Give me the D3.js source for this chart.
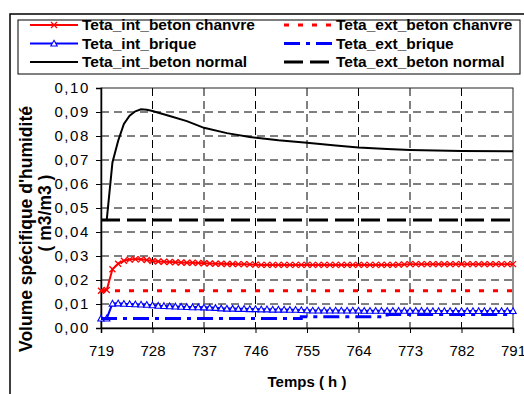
<!DOCTYPE html>
<html>
<head>
<meta charset="utf-8">
<script src="https://cdn.jsdelivr.net/npm/d3@7"></script>
<style>
  body { margin: 0; background: #fff; }
  text { font-family: "Liberation Sans", Arial, sans-serif; }
</style>
</head>
<body>
<svg id="chart" width="524" height="394"></svg>
<script>
// hours 719..791, one value per hour for series drawn with markers
var hours = d3.range(719, 792);

var intChanvre = [
  0.0155, 0.0158, 0.0245, 0.0268, 0.0280, 0.0285, 0.0287, 0.0286, 0.0283, 0.0279,
  0.0277, 0.0276, 0.0275, 0.0274, 0.0273, 0.0272, 0.0272, 0.0271, 0.0270, 0.0269,
  0.0268, 0.0268, 0.0267, 0.0267, 0.0266, 0.0266, 0.0265, 0.0264, 0.0263, 0.0263,
  0.0263, 0.0263, 0.0263, 0.0263, 0.0263, 0.0263, 0.0263, 0.0263, 0.0263, 0.0263,
  0.0263, 0.0263, 0.0263, 0.0263, 0.0263, 0.0263, 0.0263, 0.0263, 0.0263, 0.0263,
  0.0263, 0.0263, 0.0264, 0.0265, 0.0266, 0.0266, 0.0266, 0.0266, 0.0266, 0.0266,
  0.0266, 0.0266, 0.0266, 0.0266, 0.0266, 0.0266, 0.0266, 0.0266, 0.0266, 0.0266,
  0.0266, 0.0266, 0.0266
];

var intBrique = [
  0.0040, 0.0040, 0.0102, 0.0103, 0.0101, 0.0100, 0.0099, 0.0098, 0.0097, 0.0095,
  0.0093, 0.0092, 0.0091, 0.0090, 0.0089, 0.0088, 0.0087, 0.0087, 0.0086, 0.0085,
  0.0084, 0.0082, 0.0081, 0.0081, 0.0080, 0.0080, 0.0079, 0.0079, 0.0078, 0.0078,
  0.0077, 0.0077, 0.0077, 0.0076, 0.0076, 0.0075, 0.0074, 0.0073, 0.0073, 0.0073,
  0.0073, 0.0073, 0.0073, 0.0073, 0.0073, 0.0073, 0.0072, 0.0072, 0.0072, 0.0072,
  0.0072, 0.0072, 0.0072, 0.0072, 0.0072, 0.0072, 0.0072, 0.0072, 0.0071, 0.0071,
  0.0071, 0.0071, 0.0071, 0.0071, 0.0071, 0.0071, 0.0071, 0.0071, 0.0071, 0.0071,
  0.0071, 0.0071, 0.0071
];

// series without markers: read at key hours
var normalHours = [719, 720, 721, 722, 723, 724, 725, 726, 727, 728, 731, 734, 737, 741, 745, 750, 755, 760, 764, 769, 773, 782, 791];
var intNormal   = [0.045, 0.045, 0.069, 0.078, 0.085, 0.0885, 0.0903, 0.0911, 0.0909, 0.0904, 0.0883, 0.0862, 0.0834, 0.0812, 0.0796, 0.0782, 0.0772, 0.0760, 0.0752, 0.0746, 0.0742, 0.0737, 0.0736];

var extHours   = [719, 791];
var extChanvre = [0.0155, 0.0155];
var extNormal  = [0.045, 0.045];

var extBriqueHours = [719, 752, 754, 767, 769, 791];
var extBrique      = [0.0040, 0.0040, 0.0047, 0.0047, 0.0056, 0.0057];

var xTicks = [719, 728, 737, 746, 755, 764, 773, 782, 791];
var yTicks = [0, 0.01, 0.02, 0.03, 0.04, 0.05, 0.06, 0.07, 0.08, 0.09, 0.10];

var legendNames = [
  "Teta_int_beton chanvre", "Teta_ext_beton chanvre",
  "Teta_int_brique", "Teta_ext_brique",
  "Teta_int_beton normal", "Teta_ext_beton normal"
];

var svg = d3.select("#chart");
var pLeft = 101, pRight = 513, pTop = 88, pBottom = 328;

var x = d3.scaleLinear().domain([719, 791]).range([pLeft, pRight]);
var y = d3.scaleLinear().domain([0, 0.10]).range([pBottom, pTop]);
var fmt = function (d) { return d3.format(".2f")(d).replace(".", ","); };

// outer chart frame
svg.append("rect")
  .attr("x", 10).attr("y", 14).attr("width", 530).attr("height", 400)
  .attr("fill", "none").attr("stroke", "#000").attr("stroke-width", 1.5);

// grid
svg.append("g").selectAll("line").data(yTicks.slice(1, -1)).enter().append("line")
  .attr("x1", pLeft).attr("x2", pRight)
  .attr("y1", d => y(d)).attr("y2", d => y(d))
  .attr("stroke", "#000").attr("stroke-width", 1).attr("stroke-dasharray", "8,5");
svg.append("g").selectAll("line").data(xTicks.slice(1, -1)).enter().append("line")
  .attr("x1", d => x(d)).attr("x2", d => x(d))
  .attr("y1", pTop).attr("y2", pBottom)
  .attr("stroke", "#000").attr("stroke-width", 1).attr("stroke-dasharray", "8,5");

// plot border
svg.append("rect")
  .attr("x", pLeft).attr("y", pTop).attr("width", pRight - pLeft).attr("height", pBottom - pTop)
  .attr("fill", "none").attr("stroke", "#222").attr("stroke-width", 1);

// axes
var yAxis = svg.append("g").attr("transform", "translate(" + pLeft + ",0)")
  .call(d3.axisLeft(y).tickValues(yTicks).tickFormat(fmt).tickSize(5).tickPadding(6));
var xAxis = svg.append("g").attr("transform", "translate(0," + pBottom + ")")
  .call(d3.axisBottom(x).tickValues(xTicks).tickFormat(d3.format("d")).tickSize(5).tickPadding(12));
[yAxis, xAxis].forEach(function (a) {
  a.select(".domain").attr("stroke", "#000").attr("stroke-width", 1.5);
  a.selectAll(".tick line").attr("stroke", "#000");
  a.selectAll("text").attr("font-size", 15).attr("fill", "#000")
    .style("font-family", "'Liberation Sans', Arial, sans-serif");
});
yAxis.selectAll("text").attr("letter-spacing", "1.6px");

var line = d3.line().x(d => x(d[0])).y(d => y(d[1]));
var stepLine = d3.line().x(d => x(d[0])).y(d => y(d[1])).curve(d3.curveStepAfter);
function pairs(xs, ys) { return xs.map((h, i) => [h, ys[i]]); }

function crossPath(s) { return "M" + (-s) + "," + (-s) + "L" + s + "," + s + "M" + (-s) + "," + s + "L" + s + "," + (-s); }
function triPath(s) { return "M0," + (-s) + "L" + s + "," + (s * 0.8) + "L" + (-s) + "," + (s * 0.8) + "Z"; }

// int beton chanvre
svg.append("path").datum(pairs(hours, intChanvre)).attr("d", line)
  .attr("fill", "none").attr("stroke", "#ff0000").attr("stroke-width", 2);
svg.append("g").selectAll("path").data(pairs(hours, intChanvre)).enter().append("path")
  .attr("transform", d => "translate(" + x(d[0]) + "," + y(d[1]) + ")")
  .attr("d", crossPath(3)).attr("stroke", "#ff0000").attr("stroke-width", 1.3).attr("fill", "none");

// ext beton chanvre
svg.append("path").datum(pairs(extHours, extChanvre)).attr("d", line)
  .attr("fill", "none").attr("stroke", "#ff0000").attr("stroke-width", 3).attr("stroke-dasharray", "5,9");

// int brique
svg.append("path").datum(pairs(hours, intBrique)).attr("d", line)
  .attr("fill", "none").attr("stroke", "#0000ff").attr("stroke-width", 2);
svg.append("g").selectAll("path").data(pairs(hours, intBrique)).enter().append("path")
  .attr("transform", d => "translate(" + x(d[0]) + "," + y(d[1]) + ")")
  .attr("d", triPath(3.2)).attr("stroke", "#0000ff").attr("stroke-width", 1.1).attr("fill", "#fff");

// ext brique
svg.append("path").datum(pairs(extBriqueHours, extBrique)).attr("d", stepLine)
  .attr("fill", "none").attr("stroke", "#0000ff").attr("stroke-width", 3).attr("stroke-dasharray", "16,6,4,6");

// int beton normal
svg.append("path").datum(pairs(normalHours, intNormal)).attr("d", line)
  .attr("fill", "none").attr("stroke", "#000").attr("stroke-width", 2);

// ext beton normal
svg.append("path").datum(pairs(extHours, extNormal)).attr("d", line)
  .attr("fill", "none").attr("stroke", "#000").attr("stroke-width", 3).attr("stroke-dasharray", "19,7");

// axis titles
svg.append("text").attr("x", 307).attr("y", 387).attr("text-anchor", "middle")
  .attr("font-size", 15).attr("font-weight", "bold").text("Temps ( h )");
var yt = svg.append("g").attr("transform", "translate(32,229) rotate(-90)");
yt.append("text").attr("x", 0).attr("y", 0).attr("text-anchor", "middle")
  .attr("font-size", 17.5).attr("font-weight", "bold").text("Volume spécifique d'humidité");
yt.append("text").attr("x", 16).attr("y", 19).attr("text-anchor", "middle")
  .attr("font-size", 17.5).attr("font-weight", "bold").text("( m3/m3 )");

// legend
svg.append("rect").attr("x", 18).attr("y", 20).attr("width", 502).attr("height", 54)
  .attr("fill", "#fff").attr("stroke", "#000").attr("stroke-width", 1);
var legendStyle = [
  { color: "#ff0000", width: 2, dash: null, marker: "x" },
  { color: "#ff0000", width: 3, dash: "5,9", marker: null },
  { color: "#0000ff", width: 2, dash: null, marker: "tri" },
  { color: "#0000ff", width: 3, dash: "16,6,4,6", marker: null },
  { color: "#000", width: 2, dash: null, marker: null },
  { color: "#000", width: 3, dash: "19,7", marker: null }
];
legendNames.forEach(function (name, i) {
  var col = i % 2, row = Math.floor(i / 2);
  var lx = col === 0 ? 30 : 284, ly = 25 + row * 18.5;
  var st = legendStyle[i];
  var g = svg.append("g");
  g.append("line").attr("x1", lx).attr("x2", lx + 48).attr("y1", ly).attr("y2", ly)
    .attr("stroke", st.color).attr("stroke-width", st.width)
    .attr("stroke-dasharray", st.dash);
  if (st.marker === "x") {
    g.append("path").attr("transform", "translate(" + (lx + 24) + "," + ly + ")")
      .attr("d", crossPath(3)).attr("stroke", st.color).attr("stroke-width", 1.2);
  } else if (st.marker === "tri") {
    g.append("path").attr("transform", "translate(" + (lx + 24) + "," + ly + ")")
      .attr("d", triPath(3.2)).attr("stroke", st.color).attr("stroke-width", 1.1).attr("fill", "#fff");
  }
  g.append("text").attr("x", lx + 52).attr("y", ly + 5)
    .attr("font-size", 15.5).attr("font-weight", "bold").text(name);
});
</script>
</body>
</html>
